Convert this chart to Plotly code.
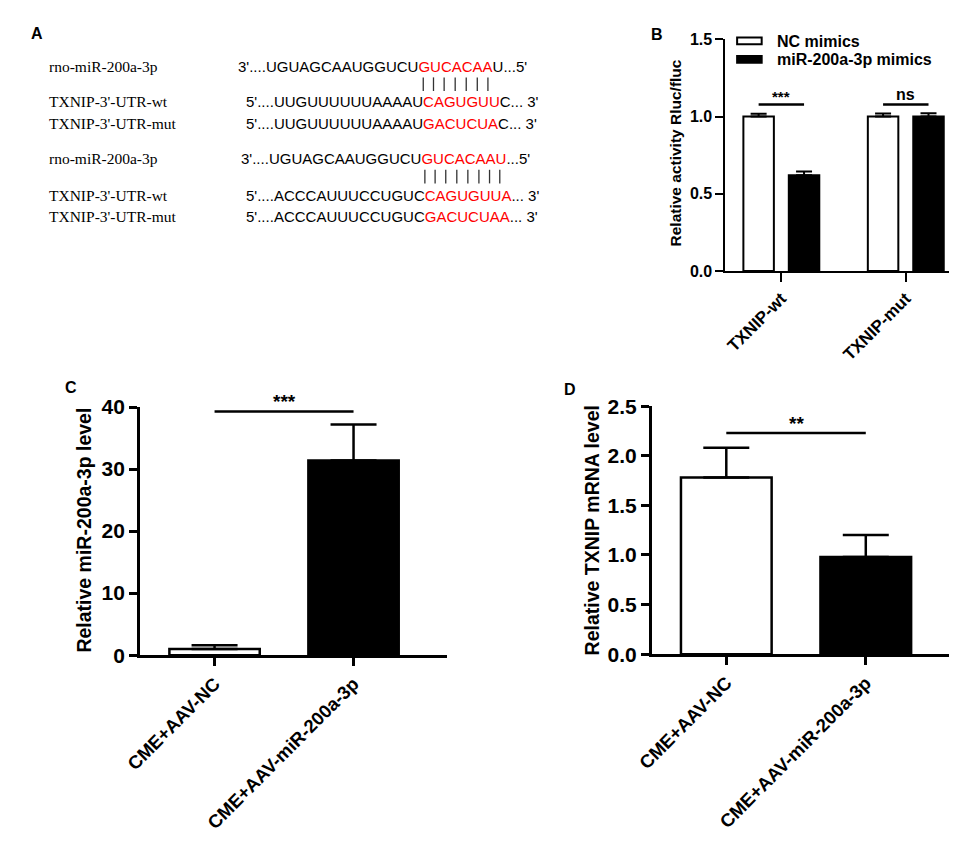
import plotly.graph_objects as go

W, H = 957, 841
def px(x): return x / W
def py(y): return 1 - y / H

SANS = "Liberation Sans, Arial, sans-serif"
SERIF = "Liberation Serif, Times New Roman, serif"
RED = "#ff0000"

# ---------------- Panel A data (sequence alignment) ----------------
a_names = ["rno-miR-200a-3p", "TXNIP-3'-UTR-wt", "TXNIP-3'-UTR-mut",
           "rno-miR-200a-3p", "TXNIP-3'-UTR-wt", "TXNIP-3'-UTR-mut"]
a_prefix = ["3'....UGUAGCAAUGGUCU", "5'....UUGUUUUUUAAAAU", "5'....UUGUUUUUUAAAAU",
            "3'....UGUAGCAAUGGUCU", "5'....ACCCAUUUCCUGUC", "5'....ACCCAUUUCCUGUC"]
a_red = ["GUCACAA", "CAGUGUU", "GACUCUA", "GUCACAAU", "CAGUGUUA", "GACUCUAA"]
a_suffix = ["U...5'", "C... 3'", "C... 3'", "...5'", "... 3'", "... 3'"]
a_pair_rows = [1, 4]   # rows whose red letters carry the pairing bars

# ---------------- Panel B data ----------------
b_categories = ["TXNIP-wt", "TXNIP-mut"]
b_nc = [1.00, 1.00]
b_nc_err = [0.018, 0.02]
b_mir = [0.62, 1.00]
b_mir_err = [0.025, 0.022]
b_series = ["NC mimics", "miR-200a-3p mimics"]
b_sig = ["***", "ns"]
b_sig_y = [1.078, 1.078]
b_ticks = [0.0, 0.5, 1.0, 1.5]

# ---------------- Panel C data ----------------
c_categories = ["CME+AAV-NC", "CME+AAV-miR-200a-3p"]
c_values = [1.0, 31.4]
c_err = [0.6, 5.8]
c_sig = "***"
c_sig_y = 39.3
c_ticks = [0, 10, 20, 30, 40]

# ---------------- Panel D data ----------------
d_categories = ["CME+AAV-NC", "CME+AAV-miR-200a-3p"]
d_values = [1.78, 0.98]
d_err = [0.30, 0.22]
d_sig = "**"
d_sig_y = 2.23
d_ticks = [0.0, 0.5, 1.0, 1.5, 2.0, 2.5]

bar_fills = ["white", "black"]

# ---------------- layout helpers ----------------
ARIAL_W = {"3": .556, "5": .556, "'": .191, ".": .278, "U": .722, "G": .778,
           "A": .667, "C": .722, " ": .278}
SEQ_SIZE = 15
def text_w(s):
    return sum(ARIAL_W.get(ch, .6) for ch in s) * SEQ_SIZE

row_y = [48, 84, 106, 142, 180, 202]
seq_x = [215, 223, 223, 218, 223, 223]
name_x = 22

fig = go.Figure()
LW = 2.5

# Panel B bars
b_offsets = [-0.305, 0.06]
b_width = 0.245
for i, (vals, errs, fill) in enumerate([(b_nc, b_nc_err, "white"), (b_mir, b_mir_err, "black")]):
    fig.add_trace(go.Bar(
        x=[0, 1], y=vals, offset=b_offsets[i], width=b_width,
        marker=dict(color=fill, line=dict(color="black", width=2)),
        error_y=dict(type="data", symmetric=False, array=errs, arrayminus=[0, 0],
                     color="black", thickness=2, width=8),
        name=b_series[i], showlegend=False, xaxis="x", yaxis="y"))
b_centers = [b_offsets[0] + b_width / 2, b_offsets[1] + b_width / 2]
for g in range(2):
    fig.add_trace(go.Scatter(
        x=[g + b_centers[0], g + b_centers[1]], y=[b_sig_y[g]] * 2, mode="lines",
        line=dict(color="black", width=LW), showlegend=False, hoverinfo="skip",
        xaxis="x", yaxis="y"))

# Panel C bars
fig.add_trace(go.Bar(
    x=[0, 1], y=c_values, width=0.65,
    marker=dict(color=bar_fills, line=dict(color="black", width=LW)),
    error_y=dict(type="data", symmetric=False, array=c_err, arrayminus=[0, 0],
                 color="black", thickness=LW, width=23),
    showlegend=False, xaxis="x2", yaxis="y2"))
fig.add_trace(go.Scatter(x=[0, 1], y=[c_sig_y] * 2, mode="lines",
                         line=dict(color="black", width=LW), showlegend=False,
                         hoverinfo="skip", xaxis="x2", yaxis="y2"))

# Panel D bars
fig.add_trace(go.Bar(
    x=[0, 1], y=d_values, width=0.65,
    marker=dict(color=bar_fills, line=dict(color="black", width=LW)),
    error_y=dict(type="data", symmetric=False, array=d_err, arrayminus=[0, 0],
                 color="black", thickness=LW, width=23),
    showlegend=False, xaxis="x3", yaxis="y3"))
fig.add_trace(go.Scatter(x=[0, 1], y=[d_sig_y] * 2, mode="lines",
                         line=dict(color="black", width=LW), showlegend=False,
                         hoverinfo="skip", xaxis="x3", yaxis="y3"))


def xcfg(x0, x1, rng, labels, anchor, size, lw, tlen):
    return dict(domain=[px(x0), px(x1)], range=rng, tickvals=[0, 1], ticktext=labels,
                tickangle=-45, showline=True, linecolor="black", linewidth=lw,
                ticks="outside", ticklen=tlen, tickwidth=lw, tickcolor="black",
                tickfont=dict(family=SANS, size=size, color="black", weight="bold"),
                showgrid=False, zeroline=False, anchor=anchor, fixedrange=True)


def ycfg(top, bottom, rng, ticks, fmt, anchor, size, lw):
    return dict(domain=[py(bottom), py(top)], range=rng, tickvals=ticks, tickformat=fmt,
                showline=True, linecolor="black", linewidth=lw,
                ticks="outside", ticklen=8, tickwidth=lw, tickcolor="black",
                tickfont=dict(family=SANS, size=size, color="black", weight="bold"),
                showgrid=False, zeroline=False, anchor=anchor, fixedrange=True)


ann = []
shapes = []
# Panel letters
for letter, (lx, ly) in zip("ABCD", [(12, 14), (643, 15), (47, 378), (555, 380)]):
    ann.append(dict(x=px(lx), y=py(ly), xref="paper", yref="paper", text=letter,
                    showarrow=False, xanchor="center", yanchor="middle",
                    font=dict(family=SANS, size=16, color="black", weight="bold")))

# Panel A texts
for i in range(len(a_names)):
    ann.append(dict(x=px(name_x), y=py(row_y[i]), xref="paper", yref="paper",
                    text=a_names[i], showarrow=False, xanchor="left", yanchor="middle",
                    font=dict(family=SERIF, size=15.5, color="black")))
    seq = (f"{a_prefix[i]}<span style='color:{RED}'>{a_red[i]}</span>{a_suffix[i]}")
    ann.append(dict(x=px(seq_x[i]), y=py(row_y[i]), xref="paper", yref="paper",
                    text=seq, showarrow=False, xanchor="left", yanchor="middle",
                    font=dict(family=SANS, size=SEQ_SIZE, color="black")))
for r in a_pair_rows:
    start = seq_x[r] + text_w(a_prefix[r])
    by = (row_y[r - 1] + row_y[r]) / 2
    for ch in a_red[r]:
        cw = text_w(ch)
        cx = start + cw / 2
        shapes.append(dict(type="line", xref="paper", yref="paper",
                           x0=px(cx), x1=px(cx), y0=py(by + 7), y1=py(by - 7),
                           line=dict(color="#333333", width=1.3)))
        start += cw

# Panel B legend (drawn manually)
leg_rows = [(18, 25, "white", b_series[0], 22), (37, 44, "black", b_series[1], 41)]
for y0, y1, fill, label, ty in leg_rows:
    shapes.append(dict(type="rect", xref="paper", yref="paper",
                       x0=px(725), x1=px(750), y0=py(y1), y1=py(y0),
                       fillcolor=fill, line=dict(color="black", width=2)))
    ann.append(dict(x=px(764), y=py(ty), xref="paper", yref="paper", text=label,
                    showarrow=False, xanchor="left", yanchor="middle",
                    font=dict(family=SANS, size=16, color="black", weight="bold")))

# Significance labels
for g in range(2):
    ann.append(dict(x=g + sum(b_centers) / 2, y=b_sig_y[g], xref="x", yref="y",
                    text=b_sig[g], showarrow=False, xanchor="center", yanchor="bottom",
                    yshift=0 if b_sig[g] == "ns" else -2,
                    font=dict(family=SANS, size=16 if b_sig[g] == "ns" else 15,
                              color="black", weight="bold")))
ann.append(dict(x=0.5, y=c_sig_y, xref="x2", yref="y2", text=c_sig, showarrow=False,
                xanchor="center", yanchor="bottom", yshift=-3,
                font=dict(family=SANS, size=19, color="black", weight="bold")))
ann.append(dict(x=0.5, y=d_sig_y, xref="x3", yref="y3", text=d_sig, showarrow=False,
                xanchor="center", yanchor="bottom", yshift=-3,
                font=dict(family=SANS, size=19, color="black", weight="bold")))

# Axis titles
for title, (tx, ty), size in [("Relative activity Rluc/fluc", (662, 137), 15.5),
                              ("Relative miR-200a-3p level", (60, 524), 19.5),
                              ("Relative TXNIP mRNA level", (577, 525), 19.5)]:
    ann.append(dict(x=px(tx), y=py(ty), xref="paper", yref="paper", text=title,
                    textangle=-90, showarrow=False, xanchor="center", yanchor="middle",
                    font=dict(family=SANS, size=size, color="black", weight="bold")))

fig.update_layout(
    width=W, height=H, margin=dict(l=0, r=0, t=0, b=0),
    paper_bgcolor="white", plot_bgcolor="white", barmode="overlay",
    xaxis=xcfg(713, 955, [-0.45, 1.46], b_categories, "y", 17, 2, 9),
    yaxis=ycfg(20, 258, [0, 1.5], b_ticks, ".1f", "x", 16, 2),
    xaxis2=xcfg(117, 430, [-0.537, 1.675], c_categories, "y2", 18.5, LW, 8),
    yaxis2=ycfg(398, 653, [0, 40], c_ticks, "d", "x2", 21, LW),
    xaxis3=xcfg(638, 952, [-0.535, 1.676], d_categories, "y3", 18.5, LW, 8),
    yaxis3=ycfg(397, 652, [0, 2.5], d_ticks, ".1f", "x3", 21, LW),
    annotations=ann, shapes=shapes,
)

fig.write_html("out.html")
